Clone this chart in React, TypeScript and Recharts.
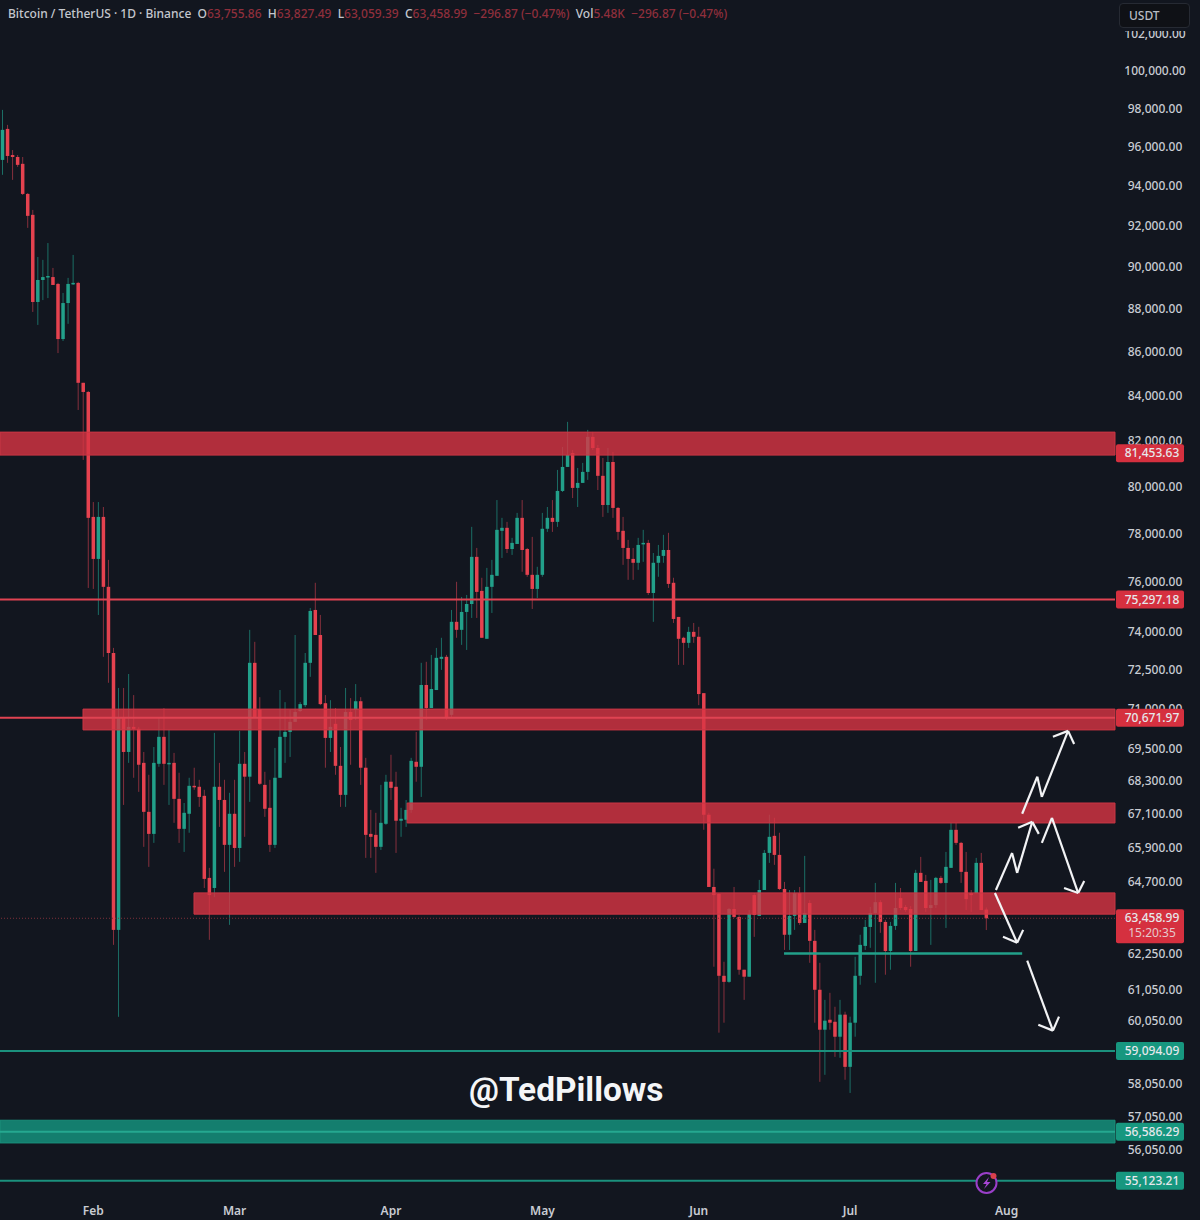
import React from 'react';
import { ComposedChart, Bar, XAxis, YAxis, ReferenceArea, ReferenceLine } from 'recharts';

const BG = '#12161f';
const RED = '#e5424f';
const GREEN = '#22a08a';
const RED_WICK = '#86303d';
const GREEN_WICK = '#1b6e65';
const FONT = '"Noto Sans", sans-serif';

const opens = [
  95340,96940,95590,95490,95140,93615,92570,88340,89390,89530,
  89530,89200,86600,88290,89200,89250,84590,84175,78715,76960,
  78715,75815,73170,63065,70665,69385,70325,70250,68980,67190,
  66400,68945,69950,68945,68980,67660,66580,67120,68135,68100,
  67770,64850,64500,68100,67620,66010,67120,65900,68945,68470,
  72785,71000,68170,67335,66010,68430,69950,70135,70515,70925,
  71150,72785,74880,73880,71225,69910,70440,68870,67805,70890,
  70965,71300,68800,66400,66365,65940,66760,68285,68100,66870,
  66905,67260,69020,68835,71925,71040,71730,72940,73020,70780,
  74405,74085,74800,75120,77045,75650,73730,75815,76265,78130,
  78255,77370,77580,78675,77370,76305,75730,76305,78215,78675,
  78505,79820,80855,81460,79950,80165,80640,82170,81680,80470,
  79220,81070,79095,78130,77415,76960,76800,77580,77625,75565,
  76800,77085,77330,75980,74600,73770,73570,74005,73810,71610,
  67085,64535,64290,61530,61330,63775,63505,61730,61500,64255,
  63540,64430,65725,66330,65655,64465,62900,63540,64325,63300,
  63980,62695,61070,59775,60095,60030,59550,60260,58595,60000,
  61530,62525,63165,63640,64010,63335,62355,63200,64150,63845,
  63775,62355,65025,64745,63810,63910,64850,64675,65200,66545,
  66080,65060,64325,64325,65375,63755.86,
];
const closes = [
  96890,95543,95490,95087,93615,92520,88340,89390,89530,89580,
  89150,86600,88290,89200,89250,84590,84175,78675,76960,78715,
  75815,73170,63065,70665,69385,70325,70250,68910,67190,66400,
  68980,69950,68945,68980,67660,66580,67155,68135,68100,67730,
  64815,64255,68100,67620,66010,67120,65900,68945,68470,72785,
  70700,68210,67300,66010,68430,69950,70135,70515,70890,71190,
  72785,74840,73880,71190,69910,70325,68870,67805,70890,70590,
  71300,68800,66365,66295,65940,66795,68285,68060,66870,66940,
  67260,69055,68835,71925,71040,71770,72980,73020,70665,74405,
  74085,74800,75120,77045,75610,73770,75815,76305,78170,78255,
  77370,77625,78675,77330,76305,75730,76305,78215,78675,78505,
  79820,80855,81375,79950,80165,80640,82170,81680,80470,79220,
  81070,79095,78085,77415,76960,76800,77540,77625,75565,76800,
  77085,77330,75935,74520,73730,73570,74005,73810,71575,67085,
  64535,64255,61530,61330,63775,63505,61730,61500,63605,63570,
  64430,65725,66295,65655,64465,62900,63540,64325,63300,63640,
  62695,61070,59775,60065,60000,59550,60260,58595,60000,61530,
  62560,63165,63640,64010,63335,62355,63200,63810,63810,63740,
  62355,65025,64710,63810,63910,64850,64675,65235,66545,66080,
  65060,64115,64255,65375,63740,63458.99,
];
const highs = [
  97934,97150,95847,95590,95490,93660,92815,90500,90360,91180,
  89970,89250,88770,89490,90600,89300,84590,84220,79345,79345,
  79135,76920,73370,71810,71810,72350,71535,70325,69385,68540,
  69570,70665,71040,70210,69350,68615,67510,68430,68800,68355,
  67990,65200,70100,68980,68355,67880,68355,70175,69385,74085,
  73610,71455,68650,68355,69535,71730,71265,70965,73880,71265,
  73170,74960,75980,74680,71535,71340,71040,69570,71810,71420,
  71960,71455,69165,67260,67155,68170,68540,69280,68650,67335,
  67620,69165,70135,72785,72825,73095,73370,73770,73095,74880,
  76020,75405,75485,78295,77415,76185,76590,76920,79430,78675,
  78505,77835,78885,79430,77415,77875,76635,78885,79135,79430,
  80725,81725,82835,81590,80810,81030,82480,82390,81810,81245,
  81680,81505,79135,78715,77750,77415,77835,78170,77750,77205,
  77540,77960,78045,76185,74600,73810,74205,74360,74205,71610,
  67155,65170,64325,61995,63810,64535,63570,61730,63740,64325,
  64780,65830,67085,66975,66440,64710,64430,64430,64535,65620,
  64080,63065,61960,60740,60970,60515,60740,60355,60195,62160,
  62900,63405,63845,64675,64080,63405,63335,64675,64500,63910,
  63875,65130,65585,64955,64780,64885,64920,65760,66795,66795,
  66115,65760,64430,65550,65725,63827.49,
];
const lows = [
  94580,95190,94325,94985,93560,91925,87870,87260,88430,88525,
  89150,85950,86510,87310,89150,83365,81160,75770,75730,74680,
  73020,72010,62560,60190,67440,68980,68430,67915,65940,65235,
  66080,68835,68170,67440,66795,66080,65760,66440,67990,67370,
  64500,62730,64185,66650,65060,63235,65235,65410,66295,67550,
  70665,68170,67010,65760,65900,68430,68980,69200,70515,70890,
  71075,72240,73880,71150,68800,69385,68540,67370,67370,68910,
  70590,68170,65550,65550,65025,65830,66725,67620,65725,66295,
  66650,67155,68285,67730,70590,71040,71730,72510,70590,70665,
  73770,73490,73290,74560,74560,73770,73730,74760,76265,77000,
  77205,77125,77580,76430,76225,74920,75360,76225,78085,78085,
  78295,79775,80855,79515,79135,80165,80295,81590,79860,78715,
  78885,78675,77750,76715,76100,76100,76510,76840,75485,74405,
  76225,76800,75770,74360,72705,72705,73370,73570,71150,66545,
  64535,61830,59680,60000,61300,63470,61565,60740,61500,62830,
  63540,64430,65375,65305,64430,62390,62390,63065,63235,63300,
  61960,60000,58125,58345,59775,58910,58880,58190,57780,59550,
  61235,62390,62460,61300,62965,61565,61730,63065,63740,63675,
  61830,62355,64710,63675,62560,63810,64640,63130,65200,66010,
  64675,63740,63675,64325,63740,63059.39,
];

const SLOTS = 221;
const monthTicks = [18, 46, 77, 107, 138, 168, 199];
const monthNames = ['Feb', 'Mar', 'Apr', 'May', 'Jun', 'Jul', 'Aug'];

const axisTicks = [
  102000,100000,98000,96000,94000,92000,90000,88000,86000,84000,82000,80000,78000,76000,74000,
  72500,71000,69500,68300,67100,65900,64700,62250,61050,60050,58050,57050,56050,
];
const priceTags = [
  { value: 81453.63, color: '#d5303f' },
  { value: 75297.18, color: '#d5303f' },
  { value: 70671.97, color: '#d5303f' },
  { value: 63458.99, color: '#d5303f', sub: '15:20:35' },
  { value: 59094.09, color: '#17977f' },
  { value: 56586.29, color: '#17977f' },
  { value: 55123.21, color: '#17977f' },
];

const redZones = [
  { from: 0, top: 82380, bottom: 81370 },
  { from: 16.45, top: 71000, bottom: 70210 },
  { from: 80.7, top: 67510, bottom: 66790 },
  { from: 38.45, top: 64330, bottom: 63600 },
];
const greenZone = { top: 56940, bottom: 56250 };

const redLines = [75297.18, 70671.97];
const greenLines = [59094.09, 55123.21];
const supportLine = { from: 155.4, to: 202.6, price: 62270 };

// Arrows on a [slot, price] basis.
const arrowPaths: number[][][] = [
  [[197.4,64430],[200.6,65725],[201.6,65025],[204.6,66830]],
  [[201.8,66620],[204.6,66830],[205.9,66400]],
  [[202.6,67120],[205.6,68470],[206.5,67730],[211.7,70175]],
  [[208.7,69950],[211.7,70175],[212.9,69685]],
  [[206.5,66080],[208.5,66975],[213.7,64325]],
  [[210.9,64500],[213.7,64325],[214.9,64745]],
  [[197.2,64325],[201.6,62630]],
  [[198.8,62830],[201.6,62630],[202.8,63065]],
  [[203.6,62030],[208.7,59745]],
  [[205.8,59935],[208.7,59745],[209.9,60195]],
];

const rows = Array.from({ length: SLOTS }, (_, day) => ({
  day,
  open: opens[day],
  close: closes[day],
  high: highs[day],
  low: lows[day],
}));

// The hidden overlay axis spans 0..SLOTS-1 across the plot width.
const ax = (slot: number) => (slot * (SLOTS - 1)) / SLOTS;

const fmt = (v: number) =>
  v.toLocaleString('en-US', { minimumFractionDigits: 2, maximumFractionDigits: 2 });

function Candle(props: any) {
  const { x, y, width, height, payload } = props;
  if (!payload || payload.open == null || !(height > 0)) return null;
  const { open, close, high, low } = payload;
  const at = (p: number) => y + (height * Math.log(high / p)) / Math.log(high / low);
  const up = close >= open;
  const cx = x + width / 2;
  const top = at(Math.max(open, close));
  const bottom = at(Math.min(open, close));
  return (
    <g>
      <line x1={cx} x2={cx} y1={y} y2={y + height} stroke={up ? GREEN_WICK : RED_WICK} strokeWidth={1} />
      <rect x={cx - 1.75} width={3.5} y={top} height={Math.max(bottom - top, 1.5)} fill={up ? GREEN : RED} />
    </g>
  );
}

function PriceTick(props: any) {
  const { x, y, payload } = props;
  const tag = priceTags.find((t) => t.value === payload.value);
  const left = x;
  if (tag) {
    return (
      <g>
        <rect x={left + 1} y={y - 9} width={68} height={tag.sub ? 34 : 18} rx={2} fill={tag.color} />
        <text x={left + 37} y={y + 4} textAnchor="middle" fontSize={12} fontWeight={500} fontFamily={FONT} fill="#e6e8ec">
          {fmt(tag.value)}
        </text>
        {tag.sub ? (
          <text x={left + 37} y={y + 19} textAnchor="middle" fontSize={12} fontFamily={FONT} fill="#e6c8cc">
            {tag.sub}
          </text>
        ) : null}
      </g>
    );
  }
  return (
    <text x={left + 40} y={y + 4} textAnchor="middle" fontSize={12} fontWeight={500} fontFamily={FONT} fill="#c9ccd3">
      {fmt(payload.value)}
    </text>
  );
}

function Chart() {
  return (
    <ComposedChart
      width={1200}
      height={1220}
      data={rows}
      margin={{ top: 0, right: 0, bottom: 0, left: 0 }}
      barCategoryGap={1}
    >
      <XAxis
        dataKey="day"
        type="category"
        height={22}
        ticks={monthTicks}
        interval={0}
        axisLine={false}
        tickLine={false}
        tickFormatter={(v: number) => monthNames[monthTicks.indexOf(v)]}
        tick={{ fill: '#c9ccd3', fontSize: 12, fontWeight: 600, fontFamily: FONT }}
      />
      <XAxis xAxisId="t" type="number" domain={[0, SLOTS - 1]} hide allowDataOverflow />
      <YAxis
        orientation="right"
        width={85}
        scale="log"
        domain={[54612, 103885]}
        allowDataOverflow
        ticks={[...axisTicks, ...priceTags.map((t) => t.value)]}
        interval={0}
        axisLine={false}
        tickLine={false}
        tick={<PriceTick />}
        tickSize={0}
        tickMargin={0}
      />
      <Bar dataKey={(d: any) => (d.open == null ? null : [d.low, d.high])} shape={<Candle />} isAnimationActive={false} />

      <ReferenceLine xAxisId="t" y={63458.99} stroke="#7d2f3a" strokeDasharray="1 2" zIndex={600} />
      {redZones.map((z) => (
        <ReferenceArea
          key={z.top}
          xAxisId="t"
          x1={ax(z.from)}
          x2={SLOTS - 1}
          y1={z.bottom}
          y2={z.top}
          fill="#d93444"
          fillOpacity={0.8}
          stroke="#c93644"
          strokeWidth={1}
          zIndex={700}
        />
      ))}
      <ReferenceArea
        xAxisId="t"
        x1={0}
        x2={SLOTS - 1}
        y1={greenZone.bottom}
        y2={greenZone.top}
        fill="#15917c"
        fillOpacity={0.85}
        stroke="#1a8f7b"
        zIndex={700}
      />
      {redLines.map((v) => (
        <ReferenceLine key={v} xAxisId="t" y={v} stroke="#e04352" strokeWidth={2} zIndex={710} />
      ))}
      {greenLines.map((v) => (
        <ReferenceLine key={v} xAxisId="t" y={v} stroke="#1b917d" strokeWidth={2} zIndex={710} />
      ))}
      <ReferenceLine xAxisId="t" y={56586.29} stroke="#25a890" strokeWidth={2} zIndex={710} />
      <ReferenceLine
        xAxisId="t"
        segment={[{ x: ax(supportLine.from), y: supportLine.price }, { x: ax(supportLine.to), y: supportLine.price }]}
        stroke="#22a08a"
        strokeWidth={2.5}
        zIndex={710}
      />
      {arrowPaths.flatMap((path, a) =>
        path.slice(1).map((pt, s) => (
          <ReferenceLine
            key={`${a}-${s}`}
            xAxisId="t"
            segment={[{ x: ax(path[s][0]), y: path[s][1] }, { x: ax(pt[0]), y: pt[1] }]}
            stroke="#f2f3f5"
            strokeWidth={2.2}
            zIndex={720}
          />
        )),
      )}
    </ComposedChart>
  );
}

const headRed = { color: '#8f2f3c' };

export default function App() {
  return (
    <div style={{ position: 'absolute', left: 0, top: 0, width: 1200, height: 1220, background: BG, overflow: 'hidden' }}>
      <Chart />
      <div
        style={{
          position: 'absolute', left: 8, top: 6, fontFamily: FONT, fontSize: 12, fontWeight: 500,
          color: '#c4c7ce', whiteSpace: 'pre', lineHeight: '16px',
        }}
      >
        Bitcoin / TetherUS · 1D · Binance{'  '}O<span style={headRed}>63,755.86</span>{'  '}H<span style={headRed}>63,827.49</span>{'  '}L
        <span style={headRed}>63,059.39</span>{'  '}C<span style={headRed}>63,458.99</span>{'  '}
        <span style={headRed}>−296.87 (−0.47%)</span>{'  '}Vol<span style={headRed}>5.48K</span>{'  '}
        <span style={headRed}>−296.87 (−0.47%)</span>
      </div>
      <div style={{ position: 'absolute', left: 1116, top: 0, width: 84, height: 31, background: BG }} />
      <div
        style={{
          position: 'absolute', left: 1119, top: 3, width: 71, height: 25, boxSizing: 'border-box',
          background: '#0f1116', border: '1px solid #262a33', borderRadius: 4, color: '#b8bbc2',
          fontFamily: FONT, fontSize: 12, fontWeight: 500, lineHeight: '23px', paddingLeft: 9,
        }}
      >
        USDT
      </div>
      <div
        style={{
          position: 'absolute', left: 469, top: 1070, fontFamily: 'Roboto, sans-serif', fontSize: 33.4,
          fontWeight: 700, color: '#f4f5f7', lineHeight: '40px', whiteSpace: 'pre',
        }}
      >
        @TedPillows
      </div>
      <svg style={{ position: 'absolute', left: 972, top: 1168 }} width={30} height={30}>
        <circle cx={14.5} cy={15} r={10} fill={BG} stroke="#9a3fc9" strokeWidth={2} />
        <path d="M17 9 L11 16 L14.5 16 L12 21 L18.5 14 L15 14 Z" fill="#a746d6" />
        <circle cx={21.5} cy={8} r={3} fill="#d8404c" />
      </svg>
    </div>
  );
}
